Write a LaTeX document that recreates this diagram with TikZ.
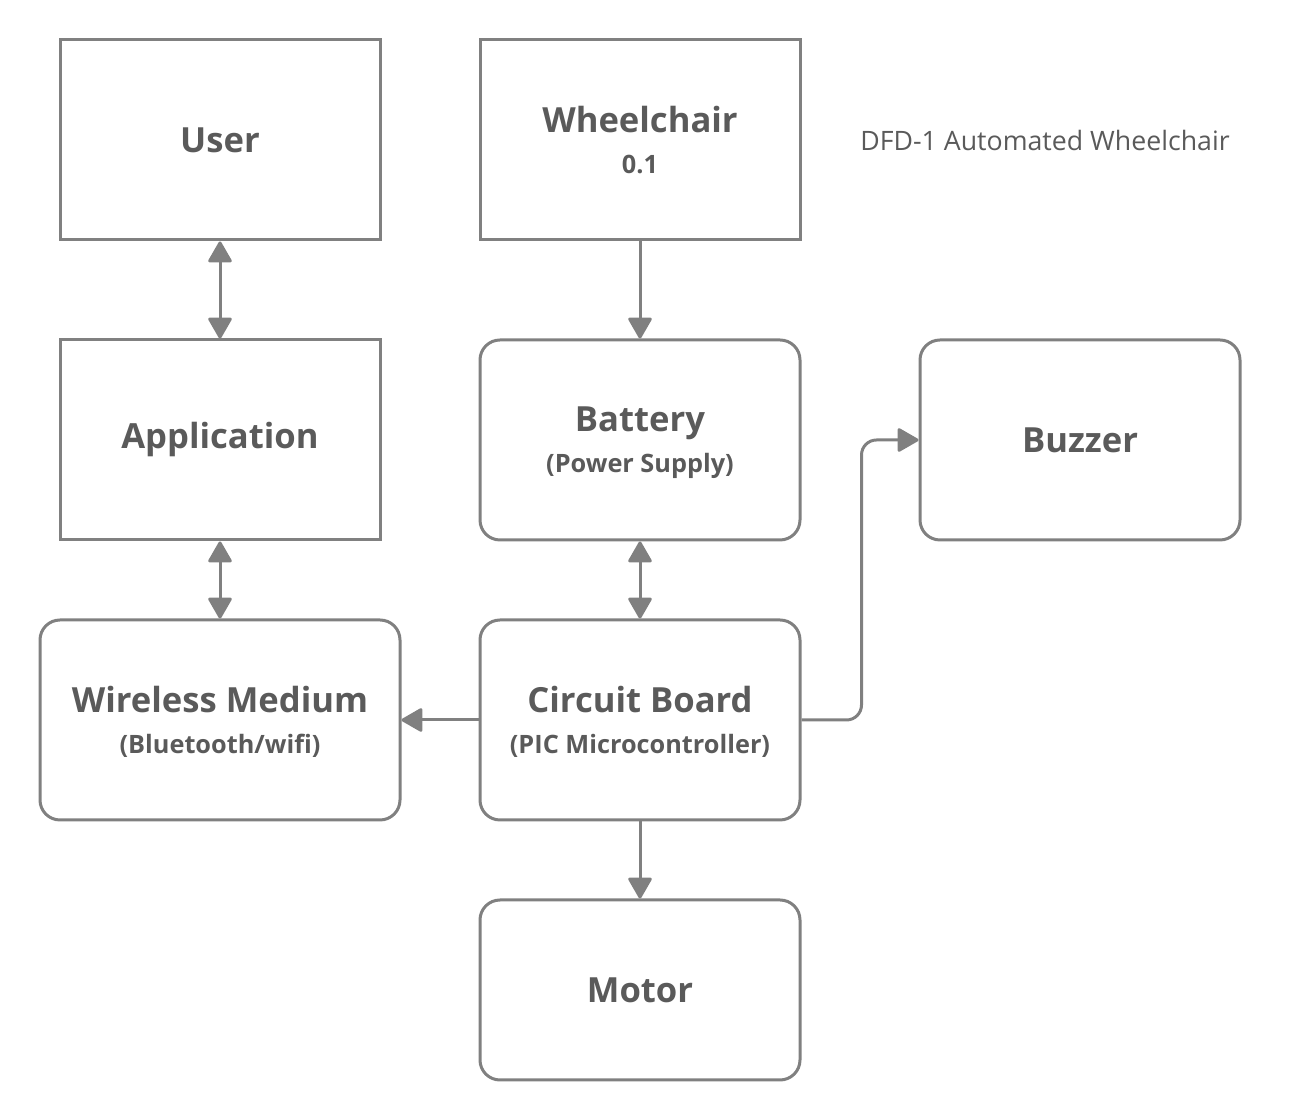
\documentclass[tikz,border=0pt]{standalone}
\usepackage{fontspec}
\setmainfont{Open Sans}
\usetikzlibrary{arrows.meta, positioning}
\definecolor{linegray}{HTML}{808080}
\definecolor{textgray}{HTML}{5a5a5a}

\begin{document}
\begin{tikzpicture}[font=\rmfamily]
				% Setup the style for the blocks
				\tikzset{block style/.style={draw=linegray,
											minimum width=6.4cm,
											minimum height=4cm,
											line width=0.06cm,
											align=center,
											text=textgray,
											font=\bfseries\fontsize{19.7}{23.5}\selectfont},
						 round block/.style={block style, rounded corners=0.4cm},
						 two lines/.style={text depth=-3.5pt}}
				\useasboundingbox (0,0) rectangle (26,22.4);
				% Draw the blocks
				\node[block style] at (4.4, 19.6)  (user) {User};
				\node[block style, two lines] at (12.8, 19.6) (wc)   {Wheelchair\\{\fontsize{14.4}{16}\selectfont 0.1}};
				\node[block style] at (4.4, 13.6)  (app)  {Application};
				\node[round block, two lines] at (12.8, 13.6) (bat)  {Battery\\{\fontsize{14.4}{16}\selectfont (Power Supply)}};
				\node[round block] at (21.6, 13.6) (buz)  {Buzzer};
				\node[round block, two lines, minimum width=7.2cm] at (4.4, 8.0) (wm)
					{Wireless Medium\\{\fontsize{14.4}{16}\selectfont (Bluetooth/wifi)}};
				\node[round block, two lines] at (12.8, 8.0)  (cb)   {Circuit Board\\{\fontsize{14.4}{16}\selectfont (PIC Microcontroller)}};
				\node[round block, minimum height=3.6cm] at (12.8, 2.6) (mot) {Motor};
				\node[text=textgray, font=\fontsize{15.2}{17}\selectfont] at (20.9, 19.6) (title)
					{DFD-1 Automated Wheelchair};
				% Connect the blocks with arrows
				\draw[line width=0.06cm,
					  draw=linegray,
					  >={Triangle[width=0.5cm, length=0.45cm, round]},
					  fill=linegray]
					(user) edge[<->] (app)
					(app)  edge[<->] (wm)
					(wc)   edge[->]  (bat)
					(bat)  edge[<->] (cb)
					(cb)   edge[->]  (wm)
					(cb)   edge[->]  (mot);
				\draw[line width=0.06cm, draw=linegray, rounded corners=0.3cm,
					  -{Triangle[width=0.5cm, length=0.45cm, round]}]
					(cb.east) -- ++(1.2,0) |- (buz.west);
			\end{tikzpicture}
\end{document}
